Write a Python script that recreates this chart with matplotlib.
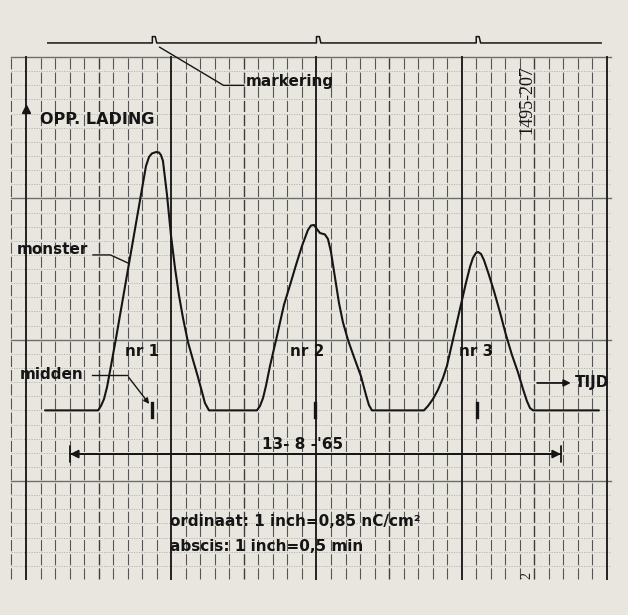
import matplotlib
matplotlib.use("Agg")
import matplotlib.pyplot as plt
import numpy as np

# registrerende lijn (x en y in inch papier)
trace_x = [0.131, 0.496, 0.516, 0.537, 0.558, 0.585, 0.620, 0.826, 0.847, 0.867, 0.895,
           0.916, 0.929, 0.943, 0.971, 0.998, 1.026, 1.053, 1.081, 1.115, 1.150, 1.184,
           1.212, 1.232, 1.260,
           1.590, 1.611, 1.632, 1.652, 1.680, 1.728, 1.776, 1.818, 1.859, 1.900, 1.941,
           1.962, 1.983, 2.003, 2.024, 2.058, 2.079, 2.100, 2.155, 2.182, 2.217, 2.258,
           2.306, 2.341, 2.361, 2.382,
           2.740, 2.768, 2.802, 2.836, 2.871, 2.898, 3.029, 3.057, 3.077, 3.098, 3.112,
           3.133, 3.153, 3.181, 3.222, 3.263, 3.305, 3.346, 3.387, 3.422, 3.449, 3.470,
           3.491, 3.945]
trace_y = [0.500, 0.500, 0.531, 0.580, 0.665, 0.814, 1.012, 2.229, 2.293, 2.318, 2.328,
           2.325, 2.307, 2.265, 2.024, 1.741, 1.507, 1.316, 1.154, 0.984, 0.856, 0.736,
           0.630, 0.552, 0.500,
           0.500, 0.531, 0.587, 0.672, 0.814, 1.026, 1.246, 1.387, 1.529, 1.663, 1.776,
           1.808, 1.812, 1.783, 1.755, 1.745, 1.713, 1.621, 1.260, 1.125, 0.998, 0.878,
           0.743, 0.609, 0.538, 0.500,
           0.500, 0.531, 0.580, 0.644, 0.729, 0.814, 1.401, 1.515, 1.578, 1.614, 1.621,
           1.607, 1.564, 1.479, 1.345, 1.196, 1.033, 0.892, 0.771, 0.651, 0.566, 0.517,
           0.500, 0.500]

marker_x = [0.89, 2.02, 3.12]      # markering op bovenste lijn
midden_x = [0.87, 1.99, 3.105]     # midden van elk monster
peak_labels = ["nr 1", "nr 2", "nr 3"]
peak_label_x = [0.68, 1.82, 2.98]

paper = "#e8e6df"
ink = "#151515"
fnt = dict(family="DejaVu Sans", fontweight="bold", fontsize=11, color=ink)

fig = plt.figure(figsize=(6.28, 6.15), dpi=100, facecolor=paper)
ax = fig.add_axes([0, 0, 1, 1])
ax.set_facecolor(paper)
ax.set_xlim(-0.179, 4.145)
ax.set_ylim(-0.948, 3.404)
ax.axis("off")

# ruitjespapier
grid_top, grid_bot = 3.0, -0.69
for gy in np.round(np.arange(-0.6, 3.001, 0.1), 2):
    if abs(gy - round(gy)) < 1e-6:
        ax.plot([-0.1, 4.03], [gy, gy], color="#6e6e6e", lw=1.0, zorder=1)
    else:
        ax.plot([-0.1, 4.03], [gy, gy], color="#b4b1aa", lw=0.6,
                ls=(0, (1.5, 1.5)), zorder=1)
for gx in np.round(np.arange(-0.1, 4.001, 0.1), 2):
    if abs(gx - round(gx)) < 1e-6:
        ax.plot([gx, gx], [grid_bot, grid_top], color="#222222", lw=1.4, zorder=2)
    elif abs(gx * 2 - round(gx * 2)) < 1e-6:
        ax.plot([gx, gx], [grid_bot, grid_top], color="#3c3c3c", lw=1.0,
                ls=(0, (8, 2.2)), zorder=2)
    else:
        ax.plot([gx, gx], [grid_bot, grid_top], color="#555555", lw=0.8,
                ls=(0, (10, 2.75)), zorder=2)

# bovenste lijn met markeringen
top_y = 3.10
lx, ly = [0.15], [top_y]
for m in marker_x:
    lx += [m - 0.02, m - 0.02, m, m + 0.01]
    ly += [top_y, top_y + 0.045, top_y + 0.045, top_y]
lx.append(3.96)
ly.append(top_y)
ax.plot(lx, ly, color=ink, lw=1.1, zorder=3)
ax.plot([0.92, 1.36, 1.50], [3.07, 2.80, 2.80], color=ink, lw=1.0, zorder=3)
ax.text(1.51, 2.83, "markering", ha="left", va="center", zorder=4, **fnt)

# y-as
ax.plot([0], [2.63], marker="^", ms=6, color=ink, zorder=3)
ax.text(0.096, 2.555, "OPP. LADING", ha="left", va="center", zorder=4,
        **dict(fnt, fontsize=11.5))
ax.text(3.449, 2.696, "1495-207", rotation=90, ha="center", va="center",
        family="Liberation Serif", fontsize=13, color=ink, zorder=4)

# de registratie
ax.plot(trace_x, trace_y, color=ink, lw=1.5, solid_joinstyle="round",
        solid_capstyle="round", zorder=5)

# monster / midden
ax.text(-0.062, 1.635, "monster", ha="left", va="center", zorder=4, **fnt)
ax.plot([0.461, 0.581, 0.702], [1.60, 1.60, 1.543], color=ink, lw=1.0, zorder=4)
ax.text(-0.041, 0.757, "midden", ha="left", va="center", zorder=4, **fnt)
ax.plot([0.454, 0.695], [0.75, 0.75], color=ink, lw=1.0, zorder=4)
ax.annotate("", xy=(0.86, 0.53), xytext=(0.695, 0.75),
            arrowprops=dict(arrowstyle="-|>", color=ink, lw=1.0, mutation_scale=8),
            zorder=4)
for mx in midden_x:
    ax.plot([mx, mx], [0.45, 0.55], color=ink, lw=2.4, zorder=5)
for lab, px in zip(peak_labels, peak_label_x):
    ax.text(px, 0.92, lab, ha="left", va="center", zorder=4, **fnt)

# tijd-as
ax.annotate("", xy=(3.77, 0.694), xytext=(3.50, 0.694),
            arrowprops=dict(arrowstyle="-|>", color=ink, lw=1.3, mutation_scale=10),
            zorder=4)
ax.text(3.78, 0.694, "TIJD", ha="left", va="center", zorder=4, **fnt)

# datum
ax.annotate("", xy=(0.303, 0.191), xytext=(3.683, 0.191),
            arrowprops=dict(arrowstyle="|-|", color=ink, lw=1.3, mutation_scale=6,
                            shrinkA=0, shrinkB=0), zorder=4)
ax.annotate("", xy=(0.303, 0.191), xytext=(1.9, 0.191),
            arrowprops=dict(arrowstyle="-|>", color=ink, lw=1.3, mutation_scale=12,
                            shrinkA=0, shrinkB=0), zorder=4)
ax.annotate("", xy=(3.683, 0.191), xytext=(1.9, 0.191),
            arrowprops=dict(arrowstyle="-|>", color=ink, lw=1.3, mutation_scale=12,
                            shrinkA=0, shrinkB=0), zorder=4)
ax.text(1.907, 0.255, "13- 8 -'65", ha="center", va="center", zorder=4, **fnt)

# schaal
ax.text(0.991, -0.283, "ordinaat: 1 inch=0,85 nC/cm²", ha="left", va="center",
        zorder=4, **fnt)
ax.text(0.991, -0.46, "abscis: 1 inch=0,5 min", ha="left", va="center",
        zorder=4, **fnt)
ax.text(3.449, -0.665, "2", rotation=90, ha="center", va="center",
        family="Liberation Serif", fontsize=10, color="#202020", zorder=4)

fig.savefig("out.png", dpi=100, facecolor=paper)
